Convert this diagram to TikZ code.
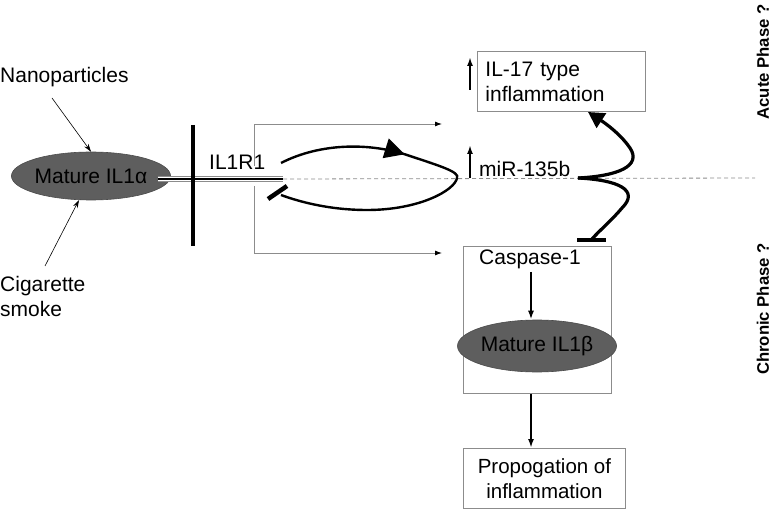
\documentclass[tikz,border=0pt]{standalone}
\usepackage{fontspec}
\setmainfont{Liberation Sans}
\usetikzlibrary{arrows.meta,decorations.markings,shapes.geometric,calc}
\definecolor{ellgray}{gray}{0.37}
\definecolor{lgray}{gray}{0.55}
\begin{document}
\begin{tikzpicture}[x=1pt,y=-1pt,
  every node/.style={font=\fontsize{21}{25}\selectfont, inner sep=0pt},
  blob/.style={ellipse, fill=ellgray, draw=ellgray!80!black, line width=0.6pt},
  grbox/.style={draw=lgray, line width=0.9pt, rectangle},
  thinarr/.style={line width=0.6pt, -{Stealth[length=8pt,width=5pt]}},
  grarr/.style={draw=lgray, line width=0.9pt, -{Latex[length=7pt,width=5pt,fill=black,color=black]}},
  blkarr/.style={line width=1.8pt, -{Latex[length=9pt,width=6pt]}},
  uparr/.style={line width=2pt, -{Latex[length=9pt,width=6pt]}},
  phase/.style={font=\fontsize{16.7}{18}\selectfont\bfseries, rotate=90}
]
\useasboundingbox (0,0) rectangle (773,510);

% left texts
\node[anchor=base west] (nano) at (0,83) {Nanoparticles};
\node[anchor=north west, align=left] (cig) at (0,276) {Cigarette\\smoke};
\node[blob, minimum width=135pt, minimum height=48pt] (il1a) at (91,176) {Mature IL1α};
\coordinate (nanoS) at (52,98);
\coordinate (cigS) at (45,266);
\coordinate (cigE) at (79,200);
\draw[thinarr] (nanoS) -- (il1a.north);
\draw[thinarr] (cigS) -- (cigE);

% double line (ligand-receptor)
\coordinate (dl1) at (158,179);
\coordinate (dl2) at (283,179);
\draw[lgray, line width=6.5pt] (dl1) -- (dl2);
\draw[white, line width=3.8pt] (dl1) -- (dl2);
\draw[black, line width=1.8pt] (dl1) -- (dl2);

% membrane bar
\coordinate (m1) at (193,125);
\coordinate (m2) at (193,246);
\draw[line width=4.5pt] (m1) -- (m2);

\node[anchor=base west] (il1r1) at (209,170) {IL1R1};

% dashed midline
\coordinate (dashE) at (755,178);
\draw[lgray, dashed, dash pattern=on 4pt off 3pt, line width=0.8pt] (dl2) -- (dashE);

% gray bracket arrows
\coordinate (g1) at (254,166);
\coordinate (g2) at (254,124);
\coordinate (g3) at (442,124);
\coordinate (g4) at (254,186);
\coordinate (g5) at (254,253);
\coordinate (g6) at (442,253);
\draw[grarr] (g1) -- (g2) -- (g3);
\draw[grarr] (g4) -- (g5) -- (g6);

% feedback loop
\coordinate (lA) at (281,163);
\coordinate (lT) at (457,178);
\coordinate (lB) at (281,195);
\draw[line width=2.4pt, decoration={markings, mark=at position 0.34 with {\arrow{Triangle[length=20pt,width=20pt]}}}, postaction=decorate]
  (lA) .. controls (320,143) and (370,142) .. (410,156)
       .. controls (440,166) and (460,172) .. (lT)
       .. controls (455,190) and (420,210) .. (367,210)
       .. controls (330,210) and (300,202) .. (lB);
\coordinate (ib1) at (287,186);
\coordinate (ib2) at (268,199);
\draw[line width=4.5pt] (ib1) -- (ib2);

% IL-17 box
\node[grbox, anchor=north west, minimum width=168pt, minimum height=60pt, text width=152pt, inner xsep=8pt, align=left] (il17) at (477,51) {IL-17 type\\inflammation};
\coordinate (u1a) at (470,90);
\coordinate (u1b) at (470,57);
\draw[uparr] (u1a) -- (u1b);

% miR-135b
\node[anchor=base west] (mir) at (479,177) {miR-135b};
\coordinate (u2a) at (470,178);
\coordinate (u2b) at (470,145);
\draw[uparr] (u2a) -- (u2b);

% S-shaped thick curve
\coordinate (sJ) at (578,178);
\coordinate (sTop) at (588,112);
\coordinate (sBot) at (592,239);
\draw[line width=3.2pt, -{Triangle[length=16pt,width=17pt]}]
  (sJ) .. controls (618,176) and (642,166) .. (630,148)
       .. controls (622,136) and (608,125) .. (sTop);
\draw[line width=3.2pt]
  (sJ) .. controls (618,180) and (640,190) .. (622,208)
       .. controls (612,220) and (600,230) .. (sBot);
\coordinate (sb1) at (577,240);
\coordinate (sb2) at (606,240);
\draw[line width=3.5pt] (sb1) -- (sb2);

% Caspase box
\node[grbox, anchor=north west, minimum width=148pt, minimum height=147pt] (caspbox) at (463,246) {};
\node[anchor=base] (casp) at (530,265) {Caspase-1};
\node[blob, minimum width=136pt, minimum height=52pt] (il1b) at (537,346) {Mature IL1β};
\coordinate (ca1) at (531,272);
\draw[blkarr] (ca1) -- (il1b.north -| ca1);

% Propogation box
\node[grbox, anchor=north west, minimum width=162pt, minimum height=60pt, align=center, font=\fontsize{20.5}{25}\selectfont] (prop) at (463,448) {Propogation of\\inflammation};
\draw[blkarr] (caspbox.south -| ca1) -- (prop.north -| ca1);

% phases
\node[phase] (acute) at (763,62) {Acute Phase ?};
\node[phase] (chronic) at (763,309) {Chronic Phase ?};
\end{tikzpicture}
\end{document}
